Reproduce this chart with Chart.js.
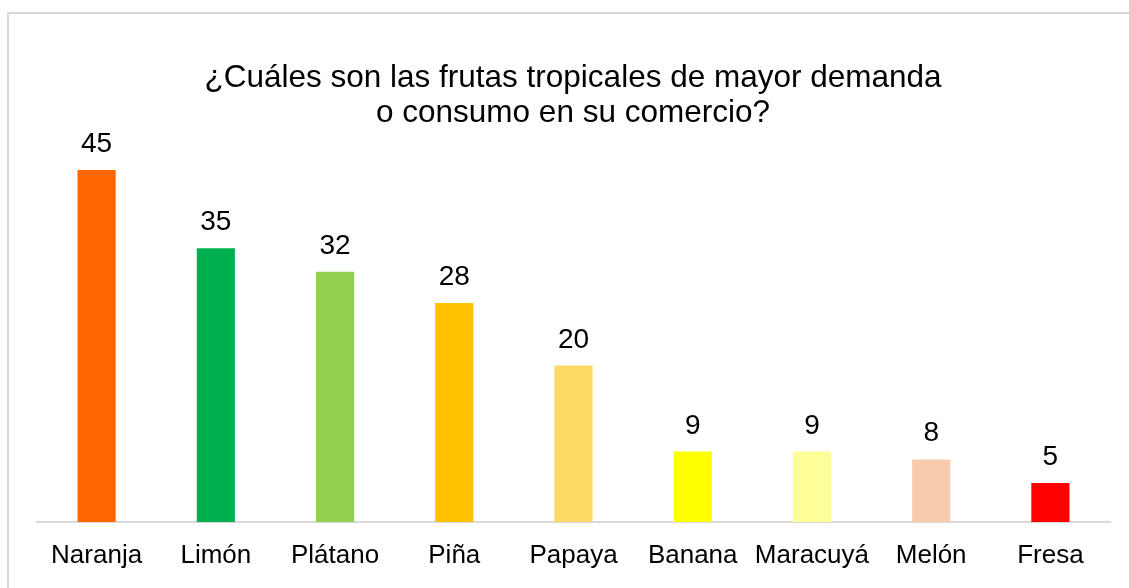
<!DOCTYPE html>
<html lang="es">
<head>
<meta charset="utf-8">
<title>Frutas tropicales</title>
<script src="https://cdn.jsdelivr.net/npm/chart.js@4.4.1/dist/chart.umd.min.js"></script>
<style>
  html, body { margin: 0; padding: 0; background: #fff; overflow: hidden; }
  .frame {
    position: absolute;
    left: 7px;
    top: 12px;
    width: 1140px;
    height: 600px;
    border: 2px solid #d9d9d9;
    box-sizing: border-box;
  }
  #chart { position: absolute; left: 0; top: 0; }
</style>
</head>
<body>
<div class="frame"></div>
<canvas id="chart" width="1129" height="588"></canvas>
<script>
const TITLE_LINES = [
  "¿Cuáles son las frutas tropicales de mayor demanda",
  "o consumo en su comercio?",
];
const FRUITS = ["Naranja", "Limón", "Plátano", "Piña", "Papaya", "Banana", "Maracuyá", "Melón", "Fresa"];
const VOTES = [45, 35, 32, 28, 20, 9, 9, 8, 5];
const BAR_COLORS = ["#ff6600", "#00b050", "#92d050", "#ffc000", "#ffd966", "#ffff00", "#ffff99", "#f8cbad", "#ff0000"];

const FONT = "'Liberation Sans', Arial, sans-serif";

// title + value labels drawn by hand so they sit like the original
const labelsPlugin = {
  id: "labels",
  afterDatasetsDraw(chart) {
    const { ctx } = chart;
    ctx.save();
    ctx.fillStyle = "#000";
    ctx.textAlign = "center";
    ctx.textBaseline = "alphabetic";

    ctx.font = `31.5px ${FONT}`;
    const cx = 573;
    ctx.fillText(TITLE_LINES[0], cx, 87);
    ctx.fillText(TITLE_LINES[1], cx, 122);

    ctx.font = `28px ${FONT}`;
    const meta = chart.getDatasetMeta(0);
    meta.data.forEach((bar, i) => {
      ctx.fillText(String(VOTES[i]), bar.x, bar.y - 18);
    });
    ctx.restore();
  },
};

new Chart(document.getElementById("chart"), {
  type: "bar",
  data: {
    labels: FRUITS,
    datasets: [{
      data: VOTES,
      backgroundColor: BAR_COLORS,
      borderWidth: 0,
      barPercentage: 0.32,
      categoryPercentage: 1,
    }],
  },
  options: {
    responsive: false,
    animation: false,
    layout: {
      padding: { top: 170, left: 37, right: 19, bottom: 0 },
    },
    plugins: {
      legend: { display: false },
      title: { display: false },
      tooltip: { enabled: false },
    },
    scales: {
      x: {
        afterFit(scale) {
          scale.height = 66;
        },
        grid: { display: false },
        border: { display: true, color: "#d9d9d9", width: 2 },
        ticks: {
          color: "#000",
          padding: 10,
          font: { family: FONT, size: 26 },
          maxRotation: 0,
        },
      },
      y: {
        display: false,
        min: 0,
        max: 45,
      },
    },
  },
  plugins: [labelsPlugin],
});
</script>
</body>
</html>
